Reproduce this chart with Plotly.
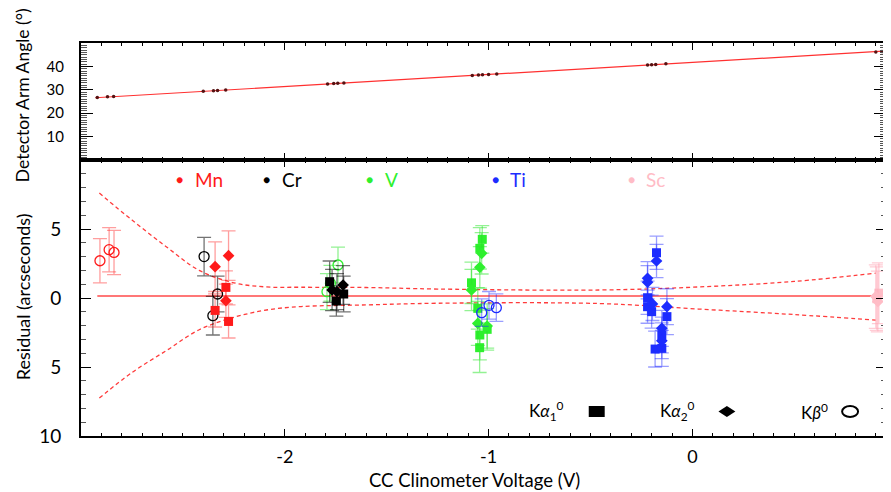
import plotly.graph_objects as go

# ---------------- data ----------------
# top panel: detector arm angle vs clinometer voltage
top_v = [-2.92, -2.87, -2.84, -2.40, -2.35, -2.33, -2.29, -1.79, -1.76, -1.74, -1.71,
         -1.08, -1.05, -1.03, -1.00, -0.96, -0.22, -0.20, -0.18, -0.13, 0.90, 0.93]
top_angle = [26.7, 27.0, 27.1, 29.4, 29.6, 29.7, 29.9, 32.5, 32.7, 32.8, 32.9,
             36.1, 36.3, 36.4, 36.5, 36.7, 40.6, 40.7, 40.8, 41.1, 46.2, 46.4]
top_fit_v = [-2.93, 0.95]
top_fit_angle = [26.6, 46.6]

# bottom panel: residuals (arcseconds)
mn_ka1_v = [-2.289, -2.342, -2.276]
mn_ka1_r = [0.77, -0.90, -1.70]
mn_ka1_e = [1.2, 1.2, 1.2]
mn_ka2_v = [-2.342, -2.276, -2.289]
mn_ka2_r = [2.27, 3.07, -0.20]
mn_ka2_e = [1.8, 1.8, 1.2]
mn_kb_v = [-2.907, -2.862, -2.838]
mn_kb_r = [2.70, 3.50, 3.30]
mn_kb_e = [1.6, 1.6, 1.6]

cr_ka1_v = [-1.780, -1.711, -1.747]
cr_ka1_r = [1.18, 0.29, -0.22]
cr_ka1_e = [1.5, 1.3, 1.1]
cr_ka2_v = [-1.714, -1.768, -1.744]
cr_ka2_r = [0.94, 0.58, 0.46]
cr_ka2_e = [1.4, 1.5, 1.3]
cr_kb_v = [-2.396, -2.330, -2.353]
cr_kb_r = [3.00, 0.29, -1.28]
cr_kb_e = [1.4, 1.3, 1.4]

v_ka1_v = [-1.031, -1.043, -1.084, -1.053, -1.043, -1.007, -1.044]
v_ka1_r = [4.25, 3.60, 1.10, -0.75, -2.68, -2.27, -3.60]
v_ka1_e = [1.0, 1.5, 1.5, 1.5, 1.8, 1.5, 1.8]
v_ka2_v = [-1.034, -1.043, -1.084, -1.053, -1.007]
v_ka2_r = [3.24, 2.22, 0.58, -1.84, -2.03]
v_ka2_e = [1.5, 1.5, 1.5, 1.6, 1.6]
v_kb_v = [-1.793, -1.776, -1.739]
v_kb_r = [0.46, 1.07, 2.39]
v_kb_e = [1.3, 1.3, 1.3]

ti_ka1_v = [-0.176, -0.220, -0.220, -0.200, -0.125, -0.150, -0.183, -0.150]
ti_ka1_r = [3.28, 0.02, -0.63, -0.99, -1.35, -2.68, -3.70, -3.65]
ti_ka1_e = [1.2, 1.2, 1.2, 1.2, 1.3, 1.3, 1.3, 1.3]
ti_ka2_v = [-0.176, -0.220, -0.220, -0.196, -0.125, -0.150, -0.150]
ti_ka2_r = [2.68, 1.43, 1.14, -0.43, -0.63, -2.20, -3.10]
ti_ka2_e = [1.2, 1.2, 1.2, 1.2, 1.3, 1.3, 1.3]
ti_kb_v = [-1.034, -0.998, -0.962]
ti_kb_r = [-1.06, -0.53, -0.70]
ti_kb_e = [1.0, 1.0, 1.0]

sc_ka1_v = [0.915, 0.905]
sc_ka1_r = [0.35, -0.05]
sc_ka1_e = [2.2, 2.3]
sc_ka2_v = [0.900, 0.910]
sc_ka2_r = [0.10, -0.25]
sc_ka2_e = [2.3, 2.2]

fit_v = [-2.92, 0.95]
fit_r = [0.15, 0.15]
band_v = [-2.91, -2.75, -2.58, -2.42, -2.25, -2.09, -1.92, -1.60, -1.25, -0.46, 0.03, 0.50, 0.90]
band_up = [7.6, 5.65, 3.7, 2.0, 1.1, 0.8, 0.78, 0.76, 0.65, 0.58, 0.80, 1.20, 1.80]
band_lo = [-7.25, -5.4, -3.8, -2.3, -1.4, -0.87, -0.62, -0.5, -0.38, -0.40, -0.80, -1.20, -1.60]

legend_names = ["Mn", "Cr", "V", "Ti", "Sc"]
line_labels = ["K<i>α</i><sub>1</sub><sup>0</sup>", "K<i>α</i><sub>2</sub><sup>0</sup>", "K<i>β</i><sup>0</sup>"]
x_tickvals = [-2, -1, 0]
x_ticktext = ["-2", "-1", "0"]
res_tickvals = [-10, -5, 0, 5]
res_ticktext = ["10", "5", "0", "5"]
ang_tickvals = [10, 20, 30, 40]

# ---------------- styling ----------------
FONT = "Lato"
col = {"Mn": "#ff1a1a", "Cr": "#000000", "V": "#2ef02e", "Ti": "#1c2cff", "Sc": "#ffbcc6"}
ecol = {"Mn": "rgba(255,40,40,0.45)", "Cr": "rgba(0,0,0,0.55)", "V": "rgba(40,230,40,0.5)",
        "Ti": "rgba(30,40,255,0.45)", "Sc": "rgba(255,170,185,0.6)"}

# plot-area edges in reference-picture pixels; page body adds an 8px offset
OFF = 8
FIG_W, FIG_H = 891 - OFF, 492 - OFF
L, R, T, B = 81, 888, 43, 436
def px(x):
    return (x - L) / (R - L)
def py(y):
    return (B - y) / (B - T)

split = py(160)

fig = go.Figure()

# top panel
fig.add_trace(go.Scatter(x=top_fit_v, y=top_fit_angle, mode="lines",
                         line=dict(color="#ff3030", width=1.2), xaxis="x", yaxis="y",
                         showlegend=False, hoverinfo="skip"))
fig.add_trace(go.Scatter(x=top_v, y=top_angle, mode="markers",
                         marker=dict(color="#551111", size=3.5), xaxis="x", yaxis="y",
                         showlegend=False))

# bottom panel: band and fit
band_line = dict(color="#ff3b3b", width=1.3, dash="4px,3px", shape="spline")
fig.add_trace(go.Scatter(x=band_v, y=band_up, mode="lines", line=band_line,
                         xaxis="x2", yaxis="y2", showlegend=False, hoverinfo="skip"))
fig.add_trace(go.Scatter(x=band_v, y=band_lo, mode="lines", line=band_line,
                         xaxis="x2", yaxis="y2", showlegend=False, hoverinfo="skip"))
fig.add_trace(go.Scatter(x=fit_v, y=fit_r, mode="lines", line=dict(color="#ff4a4a", width=1.6),
                         xaxis="x2", yaxis="y2", showlegend=False, hoverinfo="skip"))

def add_pts(v, r, e, el, kind):
    if kind == "ka1":
        m = dict(symbol="square", size=9, color=col[el])
    elif kind == "ka2":
        m = dict(symbol="diamond", size=9, color=col[el])
    else:
        m = dict(symbol="circle-open", size=10, color=col[el], line=dict(width=1.3, color=col[el]))
    fig.add_trace(go.Scatter(x=v, y=r, mode="markers", marker=m,
                             error_y=dict(type="data", array=e, visible=True, color=ecol[el],
                                          thickness=1.3, width=7),
                             xaxis="x2", yaxis="y2", showlegend=False, name=el))

add_pts(mn_kb_v, mn_kb_r, mn_kb_e, "Mn", "kb")
add_pts(cr_kb_v, cr_kb_r, cr_kb_e, "Cr", "kb")
add_pts(mn_ka2_v, mn_ka2_r, mn_ka2_e, "Mn", "ka2")
add_pts(mn_ka1_v, mn_ka1_r, mn_ka1_e, "Mn", "ka1")
add_pts(v_kb_v, v_kb_r, v_kb_e, "V", "kb")
add_pts(cr_ka1_v, cr_ka1_r, cr_ka1_e, "Cr", "ka1")
add_pts(cr_ka2_v, cr_ka2_r, cr_ka2_e, "Cr", "ka2")
add_pts(v_ka1_v, v_ka1_r, v_ka1_e, "V", "ka1")
add_pts(v_ka2_v, v_ka2_r, v_ka2_e, "V", "ka2")
add_pts(ti_kb_v, ti_kb_r, ti_kb_e, "Ti", "kb")
add_pts(ti_ka1_v, ti_ka1_r, ti_ka1_e, "Ti", "ka1")
add_pts(ti_ka2_v, ti_ka2_r, ti_ka2_e, "Ti", "ka2")
add_pts(sc_ka1_v, sc_ka1_r, sc_ka1_e, "Sc", "ka1")
add_pts(sc_ka2_v, sc_ka2_r, sc_ka2_e, "Sc", "ka2")

axis_common = dict(showline=True, linecolor="black", mirror="ticks",
                   ticks="inside", tickcolor="black", showgrid=False, zeroline=False)

annotations = []
# element legend row
dot_px = [180, 267, 370, 497, 633]
txt_px = [193, 280, 384, 509, 645]
for name, dx, tx in zip(legend_names, dot_px, txt_px):
    annotations.append(dict(x=px(dx), y=py(180), xref="paper", yref="paper", text="●",
                            showarrow=False, font=dict(family=FONT, size=12, color=col[name]),
                            xanchor="center", yanchor="middle"))
    annotations.append(dict(x=px(tx), y=py(180), xref="paper", yref="paper", text=name,
                            showarrow=False, font=dict(family=FONT, size=19, color=col[name]),
                            xanchor="left", yanchor="middle"))
# line-type legend
lab_right = [567, 699, 832]
for lab, xr in zip(line_labels, lab_right):
    annotations.append(dict(x=px(xr), y=py(411), xref="paper", yref="paper", text=lab,
                            showarrow=False, font=dict(family=FONT, size=17, color="black"),
                            xanchor="right", yanchor="middle"))
# axis titles
annotations.append(dict(x=px(23), y=py(95), xref="paper", yref="paper", text="Detector Arm Angle (°)",
                        textangle=-90, showarrow=False, font=dict(family=FONT, size=17.5, color="black"),
                        xanchor="center", yanchor="middle"))
annotations.append(dict(x=px(23), y=py(297), xref="paper", yref="paper", text="Residual (arcseconds)",
                        textangle=-90, showarrow=False, font=dict(family=FONT, size=18, color="black"),
                        xanchor="center", yanchor="middle"))
annotations.append(dict(x=px(475), y=py(480), xref="paper", yref="paper", text="CC Clinometer Voltage (V)",
                        showarrow=False, font=dict(family=FONT, size=18.5, color="black"),
                        xanchor="center", yanchor="middle"))

shapes = [
    dict(type="rect", xref="paper", yref="paper", x0=px(590), x1=px(606), y0=py(417), y1=py(406),
         fillcolor="black", line=dict(width=0)),
    dict(type="path", xref="paper", yref="paper",
         path=f"M {px(720)},{py(411.5)} L {px(728.5)},{py(406)} L {px(737)},{py(411.5)} L {px(728.5)},{py(417)} Z",
         fillcolor="black", line=dict(width=0)),
    dict(type="circle", xref="paper", yref="paper", x0=px(844), x1=px(860), y0=py(417), y1=py(406),
         line=dict(color="black", width=2)),
]

fig.update_layout(
    width=FIG_W, height=FIG_H,
    margin=dict(l=L - OFF, r=FIG_W - (R - OFF), t=T - OFF, b=FIG_H - (B - OFF)),
    paper_bgcolor="white", plot_bgcolor="white",
    font=dict(family=FONT, color="black"),
    showlegend=False,
    xaxis=dict(domain=[0, 1], anchor="y", range=[-3.0, 0.95], tick0=0, dtick=1, ticklen=7,
               showticklabels=False, linewidth=1.5,
               minor=dict(ticks="inside", tick0=0, dtick=0.1, ticklen=3, tickcolor="black"),
               **axis_common),
    yaxis=dict(domain=[split, 1], anchor="x", range=[0, 50], tickmode="array", tickvals=ang_tickvals,
               ticklen=12, tickfont=dict(size=15), ticklabelstandoff=12, linewidth=2,
               minor=dict(ticks="inside", tickmode="linear", tick0=0, dtick=1, ticklen=6, tickcolor="#555"),
               **axis_common),
    xaxis2=dict(domain=[0, 1], anchor="y2", range=[-3.0, 0.95], tickmode="array", tickvals=x_tickvals,
                ticktext=x_ticktext, ticklen=7, tickfont=dict(size=18), ticklabelstandoff=4, linewidth=1.5,
                minor=dict(ticks="inside", tickmode="linear", tick0=0, dtick=0.1, ticklen=3, tickcolor="black"),
                **axis_common),
    yaxis2=dict(domain=[0, split], anchor="x2", range=[-10, 10], tickmode="array", tickvals=res_tickvals,
                ticktext=res_ticktext, ticklen=10, tickfont=dict(size=19), ticklabelstandoff=14, linewidth=2,
                minor=dict(ticks="inside", tickmode="linear", tick0=0, dtick=1, ticklen=5, tickcolor="#555"),
                **axis_common),
    annotations=annotations,
    shapes=shapes,
)

fig.write_html("out.html")
